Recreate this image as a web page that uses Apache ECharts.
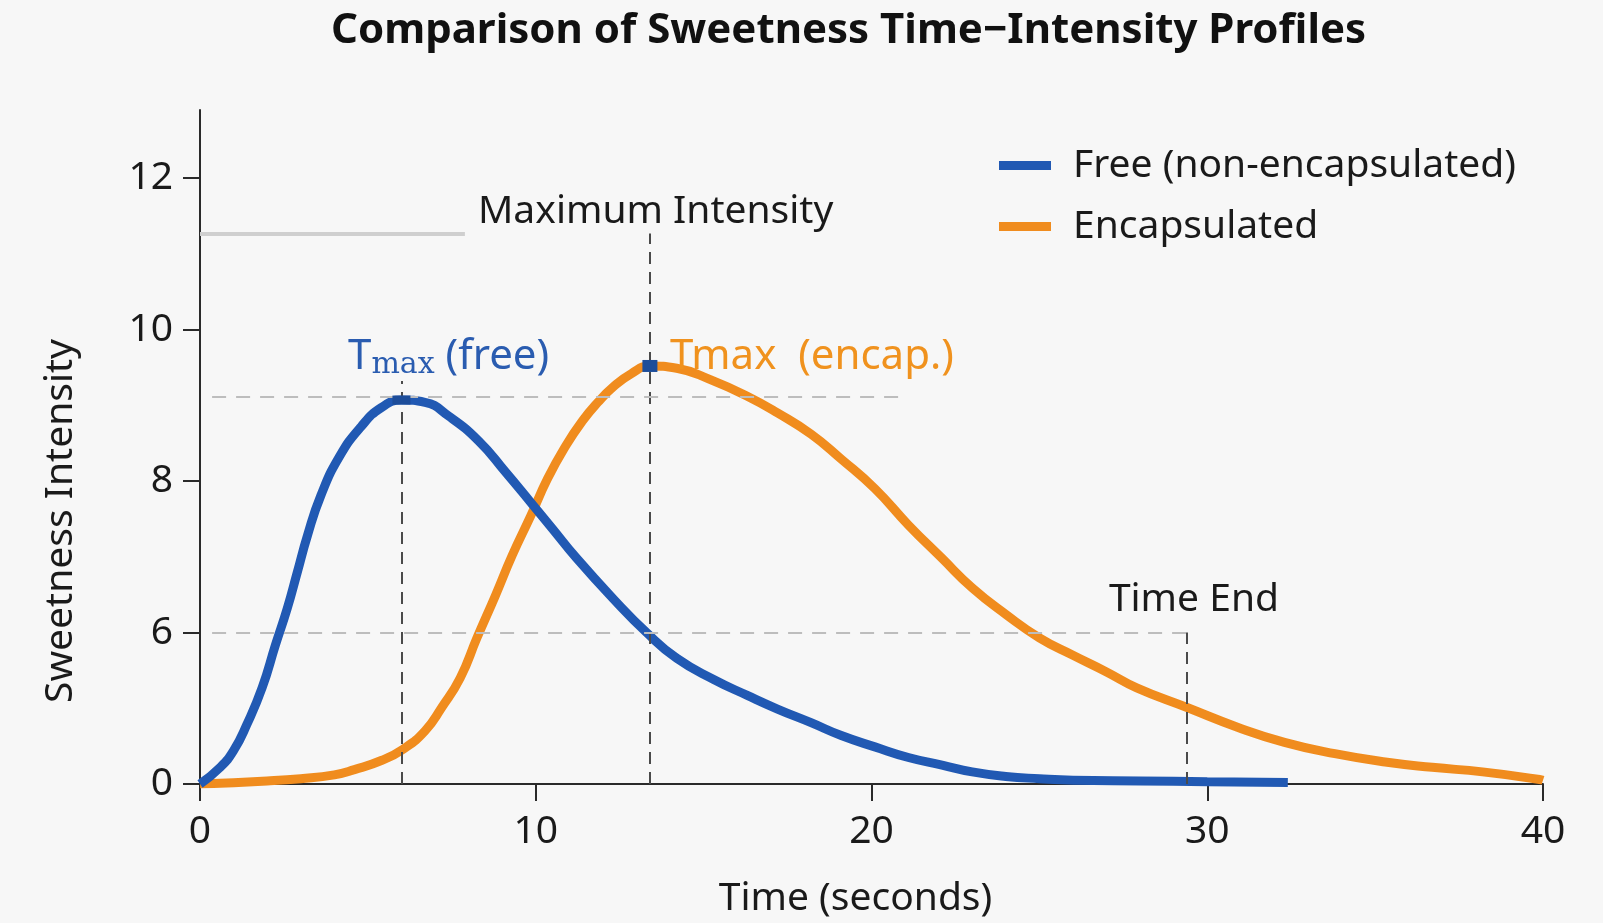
<!DOCTYPE html>
<html>
<head>
<meta charset="utf-8">
<script src="https://cdn.jsdelivr.net/npm/echarts@6/dist/echarts.min.js"></script>
<style>
  html, body { margin: 0; padding: 0; background: #f7f7f7; }
  #chart { width: 1603px; height: 923px; }
</style>
</head>
<body>
<div id="chart"></div>
<script>
// ---- data ----
// y values are in axis units: the bottom of the axis (labelled "0") sits at 4
const freeTime = [0, 0.6, 1.0, 1.4, 1.85, 2.25, 2.6, 2.9, 3.2, 3.6, 4.15, 4.8, 5.4, 6.0, 6.7, 7.4, 8.3, 9.1, 9.85, 10.5, 11.2, 12.3, 13.3, 14.2, 15.3, 16.3, 17.2, 18.2, 19.1, 20.1, 21.1, 22.1, 23.0, 24.0, 25.0, 26.0, 28.0, 30.0, 32.4];
const freeIntensity = [4.0, 4.22, 4.44, 4.79, 5.27, 5.84, 6.32, 6.80, 7.28, 7.81, 8.32, 8.72, 8.97, 9.07, 9.04, 8.86, 8.53, 8.12, 7.72, 7.37, 6.99, 6.45, 6.0, 5.66, 5.38, 5.17, 4.99, 4.81, 4.64, 4.49, 4.35, 4.25, 4.16, 4.10, 4.07, 4.05, 4.04, 4.03, 4.02];
const encapTime = [0, 2.0, 3.0, 4.0, 4.6, 5.4, 6.05, 6.7, 7.2, 7.75, 8.25, 8.8, 9.3, 9.85, 10.35, 10.9, 11.4, 11.85, 12.3, 12.85, 13.4, 14.2, 15.2, 16.3, 17.2, 18.2, 19.1, 20.1, 21.1, 22.1, 23.0, 24.0, 25.0, 26.0, 27.0, 27.9, 29.4, 30.9, 32.3, 33.8, 35.3, 36.7, 38.2, 39.9, 40];
const encapIntensity = [4.0, 4.04, 4.07, 4.12, 4.19, 4.31, 4.46, 4.70, 5.01, 5.40, 5.93, 6.49, 7.02, 7.54, 8.03, 8.47, 8.80, 9.04, 9.24, 9.42, 9.52, 9.49, 9.34, 9.12, 8.90, 8.62, 8.29, 7.90, 7.42, 6.98, 6.59, 6.24, 5.93, 5.70, 5.48, 5.27, 5.01, 4.75, 4.55, 4.40, 4.29, 4.22, 4.16, 4.06, 4.05];

const seriesNames = ['Free (non-encapsulated)', 'Encapsulated'];
const xTickValues = [0, 10, 20, 30, 40];
const yTickValues = [4, 6, 8, 10, 12];
const yTickLabels = ['0', '6', '8', '10', '12'];

// annotation values
const tmaxFree = [6, 9.07];
const tmaxEncap = [13.4, 9.52];
const timeEnd = [29.4, 6];
const maxIntensityLevel = 11.27;
const freePeakGuide = 9.12;

const FONT = 'Noto Sans';
const FS = 39;
const BLUE = '#2159b3';
const ORANGE = '#f08c1e';

function pairs(xs, ys) { return xs.map((x, i) => [x, ys[i]]); }

const chart = echarts.init(document.getElementById('chart'));
const dashDark = { color: '#4a4a4a', type: [12, 8], width: 2 };
const dashLight = { color: '#bdbdbd', type: [14, 10], width: 2 };

chart.setOption({
  backgroundColor: '#f7f7f7',
  animation: false,
  title: {
    text: 'Comparison of Sweetness Time\u2212Intensity Profiles',
    left: 326, top: 5,
    textStyle: { fontFamily: FONT, fontSize: 42, fontWeight: 'bold', color: '#111' }
  },
  legend: {
    data: seriesNames,
    orient: 'vertical',
    left: 994, top: 141,
    icon: 'rect',
    itemWidth: 52, itemHeight: 9,
    itemGap: 22,
    textStyle: { fontFamily: FONT, fontSize: FS, color: '#1a1a1a', padding: [0, 0, 0, 17] }
  },
  grid: { left: 200, right: 60, top: 110, bottom: 136 },
  xAxis: {
    type: 'value', min: 0, max: 40,
    name: 'Time (seconds)', nameLocation: 'middle', nameGap: 95,
    nameTextStyle: { fontFamily: FONT, fontSize: FS, color: '#1a1a1a', padding: [0, 32, 0, 0] },
    axisLine: { show: true, lineStyle: { color: '#2a2a2a', width: 2 } },
    axisTick: { show: true, customValues: xTickValues, length: 17, lineStyle: { color: '#2a2a2a', width: 2 } },
    axisLabel: { customValues: xTickValues, fontFamily: FONT, fontSize: FS, color: '#1a1a1a', margin: 28 },
    splitLine: { show: false }
  },
  yAxis: {
    type: 'value', min: 4, max: 12.9,
    name: 'Sweetness Intensity', nameLocation: 'middle', nameGap: 120,
    nameTextStyle: { fontFamily: FONT, fontSize: FS, color: '#1a1a1a', padding: [0, 148, 0, 0] },
    axisLine: { show: true, lineStyle: { color: '#2a2a2a', width: 2 } },
    axisTick: { show: true, customValues: yTickValues, length: 17, lineStyle: { color: '#2a2a2a', width: 2 } },
    axisLabel: {
      customValues: yTickValues, fontFamily: FONT, fontSize: FS, color: '#1a1a1a', margin: 27,
      formatter: v => yTickLabels[yTickValues.indexOf(v)] ?? ''
    },
    splitLine: { show: false }
  },
  series: [
    {
      name: seriesNames[0], type: 'line', smooth: 0.5, showSymbol: false, z: 4,
      data: pairs(freeTime, freeIntensity),
      color: BLUE,
      lineStyle: { color: BLUE, width: 9 },
      markPoint: {
        silent: true,
        data: [{ coord: tmaxFree, symbol: 'rect', symbolSize: [18, 9], itemStyle: { color: '#1d4d9a' }, label: { show: false } }]
      }
    },
    {
      name: seriesNames[1], type: 'line', smooth: 0.5, showSymbol: false, z: 3,
      data: pairs(encapTime, encapIntensity),
      color: ORANGE,
      lineStyle: { color: ORANGE, width: 9 },
      markPoint: {
        silent: true,
        data: [{ coord: tmaxEncap, symbol: 'rect', symbolSize: [15, 12], itemStyle: { color: '#1d4d9a' }, label: { show: false } }]
      }
    },
    {
      name: 'annotations', type: 'scatter', data: [], z: 6, silent: true,
      markLine: {
        silent: true, symbol: 'none', label: { show: false },
        data: [
          [{ coord: [0, maxIntensityLevel], lineStyle: { color: '#cfcfcf', width: 4, type: 'solid' } }, { coord: [7.89, maxIntensityLevel] }],
          [{ coord: [tmaxFree[0], 4], lineStyle: dashDark }, { coord: [tmaxFree[0], 9.32] }],
          [{ coord: [tmaxEncap[0], 4], lineStyle: dashDark }, { coord: [tmaxEncap[0], maxIntensityLevel] }],
          [{ coord: [0.36, freePeakGuide], lineStyle: dashLight }, { coord: [20.85, freePeakGuide] }],
          [{ coord: [0.36, timeEnd[1]], lineStyle: dashLight }, { coord: [timeEnd[0], timeEnd[1]] }],
          [{ coord: [timeEnd[0], 4], lineStyle: dashDark }, { coord: [timeEnd[0], timeEnd[1]] }]
        ]
      },
      markPoint: {
        silent: true, symbol: 'rect', symbolSize: 0,
        label: { show: true, position: [0, 0], align: 'left', verticalAlign: 'middle', fontFamily: FONT, fontSize: FS, color: '#1a1a1a' },
        data: [
          { coord: [8.28, 11.56], label: { formatter: 'Maximum Intensity' } },
          { coord: [27.07, 6.43], label: { formatter: 'Time End' } },
          { coord: [4.41, 9.64], label: {
              formatter: '{t|T}{s|max}{f| (free)}', color: '#2a5cb0',
              rich: {
                t: { fontFamily: FONT, fontSize: 42, color: '#2a5cb0' },
                s: { fontFamily: 'DejaVu Serif', fontSize: 30, color: '#2a5cb0', padding: [16, 0, 0, 0] },
                f: { fontFamily: FONT, fontSize: 42, color: '#2a5cb0' }
              } } },
          { coord: [14.0, 9.64], label: { formatter: 'Tmax  (encap.)', color: '#f0921e', fontSize: 42 } }
        ]
      }
    }
  ]
});
</script>
</body>
</html>
